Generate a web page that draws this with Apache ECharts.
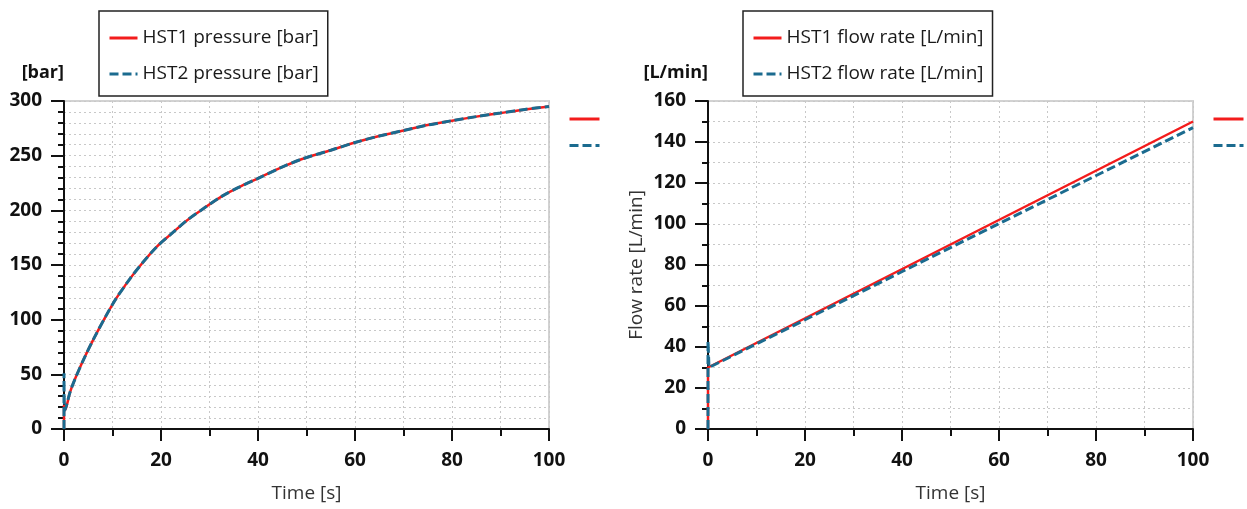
<!DOCTYPE html>
<html>
<head>
<meta charset="utf-8">
<script src="https://cdn.jsdelivr.net/npm/echarts@6/dist/echarts.min.js"></script>
<style>
  html, body { margin: 0; padding: 0; background: #fff; }
  #chart { width: 1247px; height: 509px; }
</style>
</head>
<body>
<div id="chart"></div>
<script>
// Pressure build-up of the two hydraulic storage tanks
const pressureTime  = [0, 0, 0.2, 1.2, 2.2, 4.3, 6.3, 8.6, 10.7, 13.7, 16.2, 19.2, 22, 25.4, 29.2, 32.6, 36, 39.9, 44.7, 49.1, 55, 60, 65, 70, 75, 80, 85, 90, 95, 100];
const hst1Pressure  = [0, 22, 17, 33, 45, 66, 84, 103, 119, 138, 152, 167, 178, 191, 203, 213, 221, 229, 239, 247, 255, 262, 268, 273, 278, 282, 285.7, 289, 292.3, 295];
const hst2Pressure  = [0, 51, 17, 33, 45, 66, 84, 103, 119, 138, 152, 167, 178, 191, 203, 213, 221, 229, 239, 247, 255, 262, 268, 273, 278, 282, 285.7, 289, 292.3, 295];

// Flow rate of the two tanks
const flowTime  = [0, 0, 0.2, 50, 100];
const hst1Flow  = [0, 30, 30, 90, 150];
const hst2Flow  = [0, 43, 30, 88.5, 147];

const timeTicks = { min: 0, max: 100, interval: 20 };
const pressureTicks = { min: 0, max: 300, interval: 50 };
const flowTicks = { min: 0, max: 160, interval: 20 };

const names = {
  p1: 'HST1 pressure [bar]', p2: 'HST2 pressure [bar]',
  f1: 'HST1 flow rate [L/min]', f2: 'HST2 flow rate [L/min]'
};

const RED = '#f31c1c';
const BLUE = '#1b6b8f';
const FONT = '"Open Sans", "Noto Sans", sans-serif';

function pairs(xs, ys) { return xs.map((x, i) => [x, ys[i]]); }

function xAxisDef(gridIndex) {
  return {
    type: 'value', gridIndex, min: timeTicks.min, max: timeTicks.max, interval: timeTicks.interval,
    name: 'Time [s]', nameLocation: 'middle', nameGap: 55,
    nameTextStyle: { fontFamily: FONT, fontSize: 19, color: '#333' },
    axisLine: { show: true, onZero: false, lineStyle: { color: '#111', width: 2 } },
    axisTick: { show: true, length: 12, lineStyle: { color: '#111', width: 2 } },
    minorTick: { show: true, splitNumber: 2, length: 7, lineStyle: { color: '#111', width: 2 } },
    axisLabel: { fontFamily: FONT, fontSize: 19, fontWeight: 'bold', color: '#111', margin: 22 },
    splitLine: { show: true, lineStyle: { color: '#c8c8c8', type: [2, 3], width: 1 } },
    minorSplitLine: { show: true, lineStyle: { color: '#c8c8c8', type: [2, 3], width: 1 } }
  };
}

function yAxisDef(gridIndex, ticks, unit, minorSplit) {
  return {
    type: 'value', gridIndex, min: ticks.min, max: ticks.max, interval: ticks.interval,
    name: unit, nameLocation: 'end', nameGap: 19,
    nameTextStyle: { fontFamily: FONT, fontSize: 18, fontWeight: 'bold', color: '#111', align: 'right' },
    axisLine: { show: true, lineStyle: { color: '#111', width: 2 } },
    axisTick: { show: true, length: 13, lineStyle: { color: '#111', width: 2 } },
    minorTick: { show: true, splitNumber: minorSplit, length: 6, lineStyle: { color: '#111', width: 2 } },
    axisLabel: { fontFamily: FONT, fontSize: 19, fontWeight: 'bold', color: '#111', margin: 22 },
    splitLine: { show: true, lineStyle: { color: '#c8c8c8', type: [2, 3], width: 1 } },
    minorSplitLine: { show: true, lineStyle: { color: '#c8c8c8', type: [2, 3], width: 1 } }
  };
}

// legend icons show only the line sample, no point symbol
const lineOnlyIcon = { color: 'transparent', borderColor: 'transparent', borderWidth: 0 };

function boxLegend(left, data) {
  return {
    data, orient: 'vertical', left, top: 11,
    padding: [16, 9, 11, 9], itemGap: 14, itemWidth: 28, itemHeight: 14,
    borderColor: '#222', borderWidth: 1.5, backgroundColor: '#fff',
    itemStyle: lineOnlyIcon, lineStyle: { width: 3 },
    textStyle: { fontFamily: FONT, fontSize: 19, color: '#1a1a1a', lineHeight: 22 },
    selectedMode: false
  };
}

function sideLegend(left, data) {
  return {
    data, orient: 'vertical', left, top: 112,
    padding: 0, itemGap: 14, itemWidth: 30, itemHeight: 14,
    itemStyle: lineOnlyIcon, lineStyle: { width: 3 },
    formatter: () => '', selectedMode: false,
    textStyle: { fontSize: 1 }
  };
}

function lineSeries(name, xi, yi, data, color, dashed, smooth) {
  return {
    name, type: 'line', xAxisIndex: xi, yAxisIndex: yi, data, smooth,
    showSymbol: false, symbol: 'none', animation: false, z: dashed ? 3 : 2,
    lineStyle: { color, width: dashed ? 3 : 2.5, type: dashed ? [9, 4] : 'solid' },
    itemStyle: { color }
  };
}

const chart = echarts.init(document.getElementById('chart'));
chart.setOption({
  backgroundColor: '#fff',
  animation: false,
  legend: [
    boxLegend(99, [names.p1, names.p2]),
    boxLegend(743, [names.f1, names.f2]),
    sideLegend(568, [names.p1, names.p2]),
    sideLegend(1212, [names.f1, names.f2])
  ],
  grid: [
    { left: 64, top: 101, width: 485, height: 328, show: true, borderColor: '#d2d2d2', borderWidth: 2, backgroundColor: 'transparent' },
    { left: 708, top: 101, width: 485, height: 328, show: true, borderColor: '#d2d2d2', borderWidth: 2, backgroundColor: 'transparent' }
  ],
  xAxis: [xAxisDef(0), xAxisDef(1)],
  yAxis: [
    yAxisDef(0, pressureTicks, '[bar]', 5),
    yAxisDef(1, flowTicks, '[L/min]', 2),
    {
      type: 'value', gridIndex: 1, position: 'left', min: flowTicks.min, max: flowTicks.max,
      name: 'Flow rate [L/min]', nameLocation: 'middle', nameGap: 62,
      nameTextStyle: { fontFamily: FONT, fontSize: 19, color: '#333' },
      axisLine: { show: false }, axisTick: { show: false }, axisLabel: { show: false },
      splitLine: { show: false }
    }
  ],
  series: [
    lineSeries(names.p1, 0, 0, pairs(pressureTime, hst1Pressure), RED, false, 0.3),
    lineSeries(names.p2, 0, 0, pairs(pressureTime, hst2Pressure), BLUE, true, 0.3),
    lineSeries(names.f1, 1, 1, pairs(flowTime, hst1Flow), RED, false, false),
    lineSeries(names.f2, 1, 1, pairs(flowTime, hst2Flow), BLUE, true, false)
  ]
});
</script>
</body>
</html>
